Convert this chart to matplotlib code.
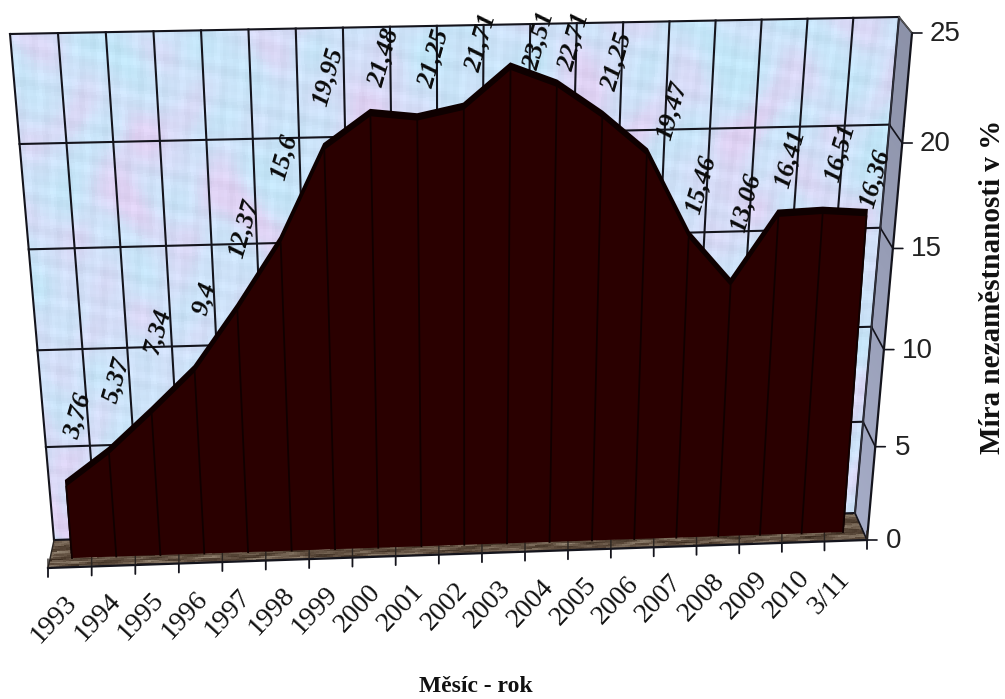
import numpy as np
import matplotlib
matplotlib.use("Agg")
import matplotlib.pyplot as plt
from matplotlib.transforms import Transform

categories = ["1993", "1994", "1995", "1996", "1997", "1998", "1999", "2000", "2001", "2002",
              "2003", "2004", "2005", "2006", "2007", "2008", "2009", "2010", "3/11"]
values = [3.76, 5.37, 7.34, 9.4, 12.37, 15.6, 19.95, 21.48, 21.25, 21.71,
          23.51, 22.71, 21.25, 19.47, 15.46, 13.06, 16.41, 16.51, 16.36]
value_labels = ["3,76", "5,37", "7,34", "9,4", "12,37", "15,6", "19,95", "21,48", "21,25", "21,71",
                "23,51", "22,71", "21,25", "19,47", "15,46", "13,06", "16,41", "16,51", "16,36"]
y_ticks = [0, 5, 10, 15, 20, 25]

# layout: pixel offsets of the data labels from their points
label_dx = [11, 7, 6, 10, 6, 3, 3, 13, 16, 17, 28, 17, 14, 25, 12, 15, 11, 17, 8]
label_dy = [71, 74, 83, 74, 83, 86, 74, 59, 62, 67, 29, 45, 56, 45, 54, 83, 58, 61, 38]


class Persp(Transform):
    input_dims = output_dims = 2
    is_separable = False
    has_inverse = False

    def __init__(self, src, dst):
        super().__init__()
        A, b = [], []
        for (u, v), (x, y) in zip(src, dst):
            A.append([u, v, 1, 0, 0, 0, -u * x, -v * x]); b.append(x)
            A.append([0, 0, 0, u, v, 1, -u * y, -v * y]); b.append(y)
        h = np.linalg.solve(np.array(A, float), np.array(b, float))
        self.H = np.append(h, 1).reshape(3, 3)

    def transform_non_affine(self, pts):
        pts = np.asarray(pts, float)
        q = np.column_stack([pts, np.ones(len(pts))]) @ self.H.T
        return q[:, :2] / q[:, 2:3]


class SideWall(Transform):
    """Side wall: depth d between the wall's right edge and the front edge,
    with the value axis spaced as on the back wall."""
    input_dims = output_dims = 2
    is_separable = False
    has_inverse = False

    def __init__(self, wall_tr, u_right, quad):
        super().__init__()
        self.wall_tr, self.u_right = wall_tr, u_right
        self.quad = np.array(quad, float)

    def transform_non_affine(self, pts):
        pts = np.asarray(pts, float)
        d, v = pts[:, 0:1], pts[:, 1]
        y = self.wall_tr.transform_non_affine(np.column_stack([np.full(len(v), self.u_right), v]))[:, 1]
        y0 = self.wall_tr.transform_non_affine([[self.u_right, 0.0]])[0, 1]
        y1 = self.wall_tr.transform_non_affine([[self.u_right, 25.0]])[0, 1]
        t = ((y - y0) / (y1 - y0))[:, None]
        a, b, c, e = self.quad
        return (1 - t) * ((1 - d) * a + d * b) + t * ((1 - d) * e + d * c)


def texture(a, b, base, c1, c2, k=1.0):
    n1 = (np.sin(a * 9.3 * k + 2.1 * np.sin(b * 7.7)) + np.sin(b * 11.1 * k + 1.7 * np.sin(a * 13.3))
          + np.sin(a * 27.1 * k + 2.3 * np.sin(b * 19.3)) + np.sin(b * 31.7 * k + 1.9 * np.sin(a * 23.9))) / 3
    n2 = (np.sin(a * 61.7 * k + b * 43.3 + 1.3) * np.sin(b * 71.9 * k - a * 37.1)
          + np.sin(a * 137.3 + b * 91.7) * np.sin(b * 113.9 - a * 101.3))
    base, c1, c2 = map(np.array, (base, c1, c2))
    t1 = np.clip(n1, 0, 1)[..., None]
    t2 = np.clip(-n1, 0, 1)[..., None]
    img = base * (1 - t1 - t2) + c1 * t1 + c2 * t2 + 0.02 * n2[..., None]
    return np.clip(img, 0, 1)


fig = plt.figure(figsize=(10.05, 6.99), dpi=100, facecolor="white")
ax = fig.add_axes([0, 0, 1, 1])
ax.axis("off")

n = len(values)
un = n - 1
wall = Persp([(0, 0), (n, 0), (n, 25), (0, 25)], [(54, 540), (855, 513), (899, 17), (10, 34)])
side = SideWall(wall, n, [(855, 513), (867, 540), (912, 33), (899, 17)])
floor = Persp([(0, 0), (n, 0), (n, 1), (0, 1)], [(48, 568), (867, 540), (855, 513), (54, 540)])
front = Persp([(0, 0), (un, 0), (un, 25), (0, 25)], [(72, 558), (843, 532), (880, 33), (31, 42)])
rear = Persp([(0, 0), (un, 0), (un, 25), (0, 25)], [(72, 552), (843, 526), (880, 27), (31, 36)])
T = ax.transData
LINE = "#14141c"

# back wall
ue, ve = np.linspace(0, n, 300), np.linspace(0, 25, 170)
uc, vc = np.meshgrid((ue[1:] + ue[:-1]) / 2, (ve[1:] + ve[:-1]) / 2)
ax.pcolormesh(ue, ve, texture(uc / n * 2, vc / 25, (0.81, 0.88, 0.97), (0.87, 0.82, 0.95), (0.76, 0.90, 0.97)),
              transform=wall + T, antialiased=False, rasterized=True, zorder=1)

# side wall
de, ve2 = np.linspace(0, 1, 8), np.linspace(0, 25, 60)
dc, vc2 = np.meshgrid((de[1:] + de[:-1]) / 2, (ve2[1:] + ve2[:-1]) / 2)
shade = (0.66 - 0.10 * (vc2 / 25))[..., None] * np.array([0.98, 1.02, 1.18])
ax.pcolormesh(de, ve2, np.clip(shade, 0, 1), transform=side + T, antialiased=False, zorder=1)

# floor
fu, fd = np.linspace(0, n, 300), np.linspace(0, 1, 20)
fuc, fdc = np.meshgrid((fu[1:] + fu[:-1]) / 2, (fd[1:] + fd[:-1]) / 2)
ax.pcolormesh(fu, fd, texture(fuc / n * 3, fdc * 2, (0.38, 0.31, 0.25), (0.56, 0.50, 0.43), (0.25, 0.19, 0.14), 1.6),
              transform=floor + T, antialiased=False, zorder=1)

# grid on the wall and on the side
for i in range(n + 1):
    ax.plot([i, i], [0, 25], color=LINE, lw=1.5, transform=wall + T, zorder=2)
for v in y_ticks:
    ax.plot([0, n], [v, v], color=LINE, lw=1.5, transform=wall + T, zorder=2)
    ax.plot([0, 1], [v, v], color=LINE, lw=1.2, transform=side + T, zorder=2)
    ax.annotate("", xy=(1, v), xycoords=side + T, xytext=(10, 0), textcoords="offset pixels",
                arrowprops=dict(arrowstyle="-", color=LINE, lw=1.2, shrinkA=0, shrinkB=0), zorder=3)
    ax.annotate(str(v), xy=(1, v), xycoords=side + T, xytext=(33 if v >= 10 else 27, -1), textcoords="offset pixels",
                ha="center", va="center", fontsize=20, family="Liberation Sans", color="#222222", zorder=6)
vv = np.linspace(0, 25, 26)
ax.plot(np.ones_like(vv), vv, color=LINE, lw=1.6, transform=side + T, zorder=2)
ax.plot(np.zeros_like(vv), vv, color="#30303a", lw=1.0, transform=side + T, zorder=2)
ax.plot([0, 1], [25, 25], color="#555555", lw=1.0, transform=side + T, zorder=2)

# floor edge and ticks
ax.plot([0, n], [0, 0], color=LINE, lw=1.6, transform=floor + T, zorder=3)
ax.plot([0, 0], [0, 1], color="#2a2420", lw=1.0, transform=floor + T, zorder=3)
for i in range(n + 1):
    ax.annotate("", xy=(i, 0), xycoords=floor + T, xytext=(0, 9), textcoords="offset pixels",
                arrowprops=dict(arrowstyle="-", color="#2a2420", lw=1.0, shrinkA=0, shrinkB=0), zorder=3)
    ax.annotate("", xy=(i, 0), xycoords=floor + T, xytext=(0, -9), textcoords="offset pixels",
                arrowprops=dict(arrowstyle="-", color=LINE, lw=1.3, shrinkA=0, shrinkB=0), zorder=3)
for i, c in enumerate(categories):
    ax.annotate(c, xy=(i + 0.5, 0), xycoords=floor + T, xytext=(-16, -52), textcoords="offset pixels",
                ha="center", va="center", rotation=47, rotation_mode="anchor",
                fontsize=20, family="Liberation Serif", color="#111111", zorder=6)

# the area
x = np.arange(n)
xs = np.r_[x[0], x, x[-1]]
ys = np.r_[0, values, 0]
ax.fill(xs, ys, facecolor="#0e0000", edgecolor="#0e0000", lw=2, transform=rear + T, zorder=4)
ax.fill(xs, ys, facecolor="#2a0000", edgecolor="none", transform=front + T, zorder=4.1)
for i, v in zip(x, values):
    ax.plot([i, i], [0, v], color="#100000", lw=1.3, transform=front + T, zorder=4.2)

# data labels
for i, (v, s) in enumerate(zip(values, value_labels)):
    ax.annotate(s, xy=(i, v), xycoords=front + T, xytext=(label_dx[i], label_dy[i]), textcoords="offset pixels",
                ha="center", va="center", rotation=74, rotation_mode="anchor",
                fontsize=19, family="Liberation Serif", weight="bold", style="italic", color="#0a0a0a", zorder=7)

# axis titles
ax.text(992, 287, "Míra nezaměstnanosti v %", rotation=90, ha="center", va="center",
        fontsize=21, family="Liberation Serif", weight="bold", color="#111111", zorder=6)
ax.text(476, 686, "Měsíc - rok", ha="center", va="center",
        fontsize=17, family="Liberation Serif", weight="bold", color="#111111", zorder=6)

ax.set_xlim(0, 1005)
ax.set_ylim(699, 0)
fig.savefig("out.png", dpi=100)
